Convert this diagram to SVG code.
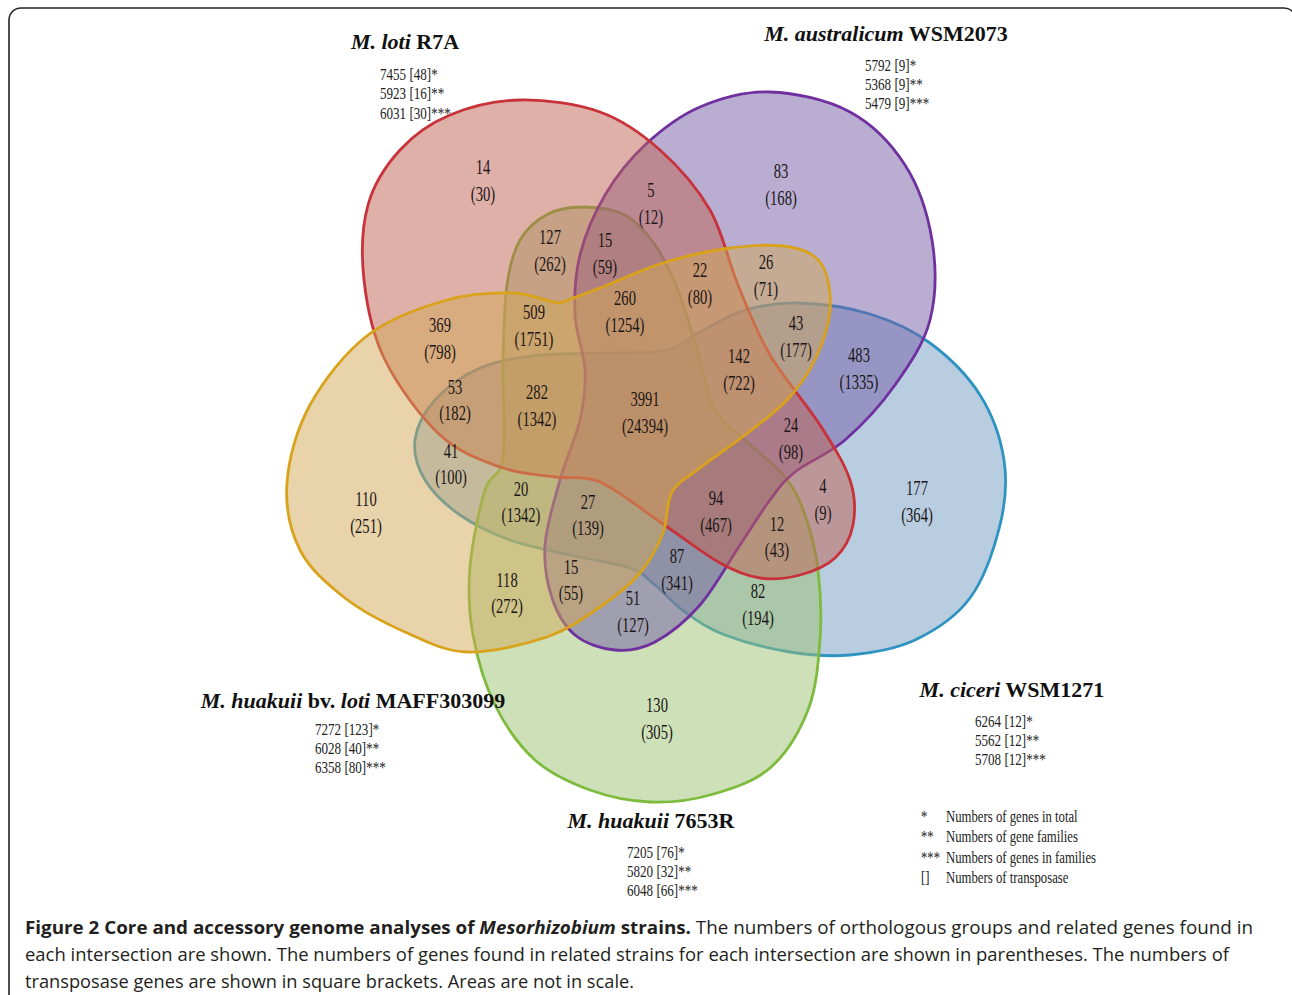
<svg xmlns="http://www.w3.org/2000/svg" width="1292" height="995" viewBox="0 0 1292 995">
<style>
.set{fill-opacity:.5;stroke-width:2.8;stroke-linejoin:round}
.num{font-family:"Liberation Serif","Times New Roman",serif;font-size:20px;fill:#1c1616;text-anchor:middle}
.stat{font-family:"Liberation Serif","Times New Roman",serif;font-size:17px;fill:#222}
.title{font-family:"Liberation Serif","Times New Roman",serif;font-size:22px;font-weight:bold;fill:#111;text-anchor:middle}
.cap{font-family:"Open Sans","Noto Sans",sans-serif;font-size:18px;fill:#231f20}
</style>
<rect x="9" y="8" width="1287" height="1010" rx="12" fill="none" stroke="#222" stroke-width="1.6"/>
<g id="sets">
<g id="set-ciceri"><path class="set" fill="#719bc1" stroke="#2e93c0" d="M415,440 C416.7,426.7 424.2,412 435,400 S462.5,375.5 480,368 S516.7,357.5 540,355 S598.7,353.8 620,353 S654.7,353.5 668,350 S687.2,338.7 700,332 S728.3,314.8 745,310 S779.2,302.3 800,303 S848.3,307.3 870,314 S911.7,329.5 930,343 S967.7,375.5 980,395 S1000.7,438.3 1004,460 S1005.7,502 1000,525 S984.2,578.8 970,598 S935,630.5 915,640 S870.8,653 850,655 S810.8,655.3 790,652 S742.5,641.7 725,635 S696.7,620.3 685,612 S664.2,592.3 655,585 S644.2,573 630,568 S590,559.7 570,555 S528.3,546.7 510,540 S474.2,525 460,515 S432.5,492.5 425,480 S413.3,453.3 415,440 Z"/></g>
<g id="set-huakuii7653R"><path class="set" fill="#9bc171" stroke="#7cbb3c" d="M585,207 C597.8,207.2 613.3,208.7 625,215 S646.2,232.5 655,245 S671,272.5 678,290 S690.8,330 697,350 S707,395 715,410 S733.3,428.8 745,440 S775,464.5 785,477 S799.5,499.5 805,515 S815.5,549.2 818,570 S821.7,616.7 820,640 S816.3,688.7 808,710 S786.3,753.8 770,768 S730,789.3 710,795 S670,802.8 650,802 S609.2,797 590,790 S550.8,774.2 535,760 S505.3,725.8 495,705 S477.2,658 473,635 S468,591.2 470,567 S479.5,508.2 485,490 S500,479.7 503,458 S502.3,388.8 503,360 S504.2,305 507,285 S513.2,251.8 520,240 S537.2,219.5 548,214 S572.2,206.8 585,207 Z"/></g>
<g id="set-australicum"><path class="set" fill="#735da5" stroke="#7030a0" d="M770,92 C795,92.8 827.5,99.8 850,112 S891.3,143.7 905,165 S927.8,214.2 932,240 S936.2,295.8 930,320 S909.2,365 895,385 S861.7,425.5 845,440 S807.5,462 795,472 S779.2,487.8 770,500 S751.7,527.5 740,545 S714.2,588.8 700,605 S669.2,634.5 655,642 S628.3,651.2 615,650 S585.5,643.7 575,635 S557,613 552,598 S543.7,564.7 545,545 S554.2,500.8 560,480 S575.8,438.3 580,420 S585.8,387.5 585,370 S575.8,334.2 575,315 S575,275 580,255 S594.2,213.3 605,195 S629.2,159.7 645,145 S679.2,115.8 700,107 S745,91.2 770,92 Z"/></g>
<g id="set-loti"><path class="set" fill="#bf6151" stroke="#c8323a" d="M520,100 C545,99.5 576.7,103.7 600,112 S641.7,133.7 660,150 S697,187.5 710,210 S728,260.8 738,285 S756.3,331.7 770,355 S806.7,404.2 820,425 S844.5,463.3 850,480 S855.5,512 853,525 S843.8,549.7 835,558 S812.5,571.7 800,575 S773.3,580 760,578 S736.7,572.3 720,563 S680,535.5 660,522 S617.5,489.5 600,482 S571.7,479.5 555,477 S519.2,474 500,467 S459.2,452.8 440,435 S397.7,385.8 385,360 S366.8,305.8 364,280 S362,226.7 368,205 S386.3,165 400,150 S430,123.3 450,115 S495,100.5 520,100 Z"/></g>
<g id="set-huakuii-loti"><path class="set" fill="#d1a755" stroke="#d9a21b" d="M560,303 C570,299 582.8,294.7 600,288 S641.3,269.7 663,263 S708.8,250.7 730,248 S774.7,244.2 790,247 S815.3,254.5 822,265 S831.2,294.2 830,310 S822.2,345 815,360 S798.7,387.5 787,400 S759.5,423.7 745,435 S712.2,458.5 700,468 S678.2,481.2 672,492 S668.3,519.5 663,533 S650.5,560.7 640,573 S615.5,596.3 600,607 S569.2,629.5 547,637 S490.7,652.8 467,652 S425.3,641 405,632 S362.5,611.7 345,598 S309.7,569.2 300,550 S285.3,507.2 287,483 S296.5,429.7 310,405 S345.2,352.5 368,335 S422.5,307 447,300 S496.2,292.5 515,293 C530,293.5 548,302 560,303 Z"/></g>
</g>
<g id="region-labels" class="num">
<text transform="translate(483,174) scale(.73,1)"><tspan x="0">14</tspan><tspan x="0" dy="27">(30)</tspan></text>
<text transform="translate(651,197) scale(.73,1)"><tspan x="0">5</tspan><tspan x="0" dy="27">(12)</tspan></text>
<text transform="translate(781,178) scale(.73,1)"><tspan x="0">83</tspan><tspan x="0" dy="27">(168)</tspan></text>
<text transform="translate(550,244) scale(.73,1)"><tspan x="0">127</tspan><tspan x="0" dy="27">(262)</tspan></text>
<text transform="translate(605,247) scale(.73,1)"><tspan x="0">15</tspan><tspan x="0" dy="27">(59)</tspan></text>
<text transform="translate(700,277) scale(.73,1)"><tspan x="0">22</tspan><tspan x="0" dy="27">(80)</tspan></text>
<text transform="translate(766,269) scale(.73,1)"><tspan x="0">26</tspan><tspan x="0" dy="27">(71)</tspan></text>
<text transform="translate(625,305) scale(.73,1)"><tspan x="0">260</tspan><tspan x="0" dy="27">(1254)</tspan></text>
<text transform="translate(534,319) scale(.73,1)"><tspan x="0">509</tspan><tspan x="0" dy="27">(1751)</tspan></text>
<text transform="translate(440,332) scale(.73,1)"><tspan x="0">369</tspan><tspan x="0" dy="27">(798)</tspan></text>
<text transform="translate(796,330) scale(.73,1)"><tspan x="0">43</tspan><tspan x="0" dy="27">(177)</tspan></text>
<text transform="translate(739,363) scale(.73,1)"><tspan x="0">142</tspan><tspan x="0" dy="27">(722)</tspan></text>
<text transform="translate(859,362) scale(.73,1)"><tspan x="0">483</tspan><tspan x="0" dy="27">(1335)</tspan></text>
<text transform="translate(455,394) scale(.73,1)"><tspan x="0">53</tspan><tspan x="0" dy="26">(182)</tspan></text>
<text transform="translate(537,399) scale(.73,1)"><tspan x="0">282</tspan><tspan x="0" dy="27">(1342)</tspan></text>
<text transform="translate(645,406) scale(.73,1)"><tspan x="0">3991</tspan><tspan x="0" dy="27">(24394)</tspan></text>
<text transform="translate(791,432) scale(.73,1)"><tspan x="0">24</tspan><tspan x="0" dy="27">(98)</tspan></text>
<text transform="translate(451,458) scale(.73,1)"><tspan x="0">41</tspan><tspan x="0" dy="26">(100)</tspan></text>
<text transform="translate(366,506) scale(.73,1)"><tspan x="0">110</tspan><tspan x="0" dy="27">(251)</tspan></text>
<text transform="translate(521,496) scale(.73,1)"><tspan x="0">20</tspan><tspan x="0" dy="26">(1342)</tspan></text>
<text transform="translate(588,509) scale(.73,1)"><tspan x="0">27</tspan><tspan x="0" dy="26">(139)</tspan></text>
<text transform="translate(716,505) scale(.73,1)"><tspan x="0">94</tspan><tspan x="0" dy="27">(467)</tspan></text>
<text transform="translate(823,493) scale(.73,1)"><tspan x="0">4</tspan><tspan x="0" dy="27">(9)</tspan></text>
<text transform="translate(917,495) scale(.73,1)"><tspan x="0">177</tspan><tspan x="0" dy="27">(364)</tspan></text>
<text transform="translate(777,531) scale(.73,1)"><tspan x="0">12</tspan><tspan x="0" dy="26">(43)</tspan></text>
<text transform="translate(677,563) scale(.73,1)"><tspan x="0">87</tspan><tspan x="0" dy="27">(341)</tspan></text>
<text transform="translate(571,574) scale(.73,1)"><tspan x="0">15</tspan><tspan x="0" dy="26">(55)</tspan></text>
<text transform="translate(507,587) scale(.73,1)"><tspan x="0">118</tspan><tspan x="0" dy="26">(272)</tspan></text>
<text transform="translate(633,605) scale(.73,1)"><tspan x="0">51</tspan><tspan x="0" dy="27">(127)</tspan></text>
<text transform="translate(758,598) scale(.73,1)"><tspan x="0">82</tspan><tspan x="0" dy="27">(194)</tspan></text>
<text transform="translate(657,712) scale(.73,1)"><tspan x="0">130</tspan><tspan x="0" dy="27">(305)</tspan></text>
</g>
<g id="label-loti">
<text class="title" x="405" y="49"><tspan font-style="italic">M. loti</tspan> R7A</text>
<text class="stat" transform="translate(380,80) scale(.77,1)"><tspan x="0">7455 [48]*</tspan><tspan x="0" dy="19.5">5923 [16]**</tspan><tspan x="0" dy="19.5">6031 [30]***</tspan></text>
</g>
<g id="label-australicum">
<text class="title" x="886" y="41"><tspan font-style="italic">M. australicum</tspan> WSM2073</text>
<text class="stat" transform="translate(865,71) scale(.77,1)"><tspan x="0">5792 [9]*</tspan><tspan x="0" dy="19">5368 [9]**</tspan><tspan x="0" dy="19">5479 [9]***</tspan></text>
</g>
<g id="label-huakuii-loti">
<text class="title" x="353" y="708"><tspan font-style="italic">M. huakuii</tspan> bv. <tspan font-style="italic">loti</tspan> MAFF303099</text>
<text class="stat" transform="translate(315,735) scale(.77,1)"><tspan x="0">7272 [123]*</tspan><tspan x="0" dy="18.8">6028 [40]**</tspan><tspan x="0" dy="18.8">6358 [80]***</tspan></text>
</g>
<g id="label-ciceri">
<text class="title" x="1012" y="697"><tspan font-style="italic">M. ciceri</tspan> WSM1271</text>
<text class="stat" transform="translate(975,727) scale(.77,1)"><tspan x="0">6264 [12]*</tspan><tspan x="0" dy="19">5562 [12]**</tspan><tspan x="0" dy="19">5708 [12]***</tspan></text>
</g>
<g id="label-huakuii7653R">
<text class="title" x="651" y="828"><tspan font-style="italic">M. huakuii</tspan> 7653R</text>
<text class="stat" transform="translate(627,858) scale(.77,1)"><tspan x="0">7205 [76]*</tspan><tspan x="0" dy="19">5820 [32]**</tspan><tspan x="0" dy="19">6048 [66]***</tspan></text>
</g>
<g id="legend" class="stat">
<text transform="translate(921,822) scale(.75,1)"><tspan x="0">*</tspan><tspan x="0" dy="20.5">**</tspan><tspan x="0" dy="20.5">***</tspan><tspan x="0" dy="20.5">[]</tspan></text>
<text transform="translate(946,822) scale(.75,1)"><tspan x="0">Numbers of  genes in total</tspan><tspan x="0" dy="20.5">Numbers of gene families</tspan><tspan x="0" dy="20.5">Numbers of genes in families</tspan><tspan x="0" dy="20.5">Numbers of  transposase</tspan></text>
</g>
<g id="caption" class="cap">
<text x="25" y="934" textLength="1228" lengthAdjust="spacingAndGlyphs"><tspan font-weight="bold">Figure 2 Core and accessory genome analyses of </tspan><tspan font-weight="bold" font-style="italic">Mesorhizobium</tspan><tspan font-weight="bold"> strains.</tspan> The numbers of orthologous groups and related genes found in</text>
<text x="25" y="961" textLength="1204" lengthAdjust="spacingAndGlyphs">each intersection are shown. The numbers of genes found in related strains for each intersection are shown in parentheses. The numbers of</text>
<text x="25" y="988" textLength="609" lengthAdjust="spacingAndGlyphs">transposase genes are shown in square brackets. Areas are not in scale.</text>
</g>
</svg>
